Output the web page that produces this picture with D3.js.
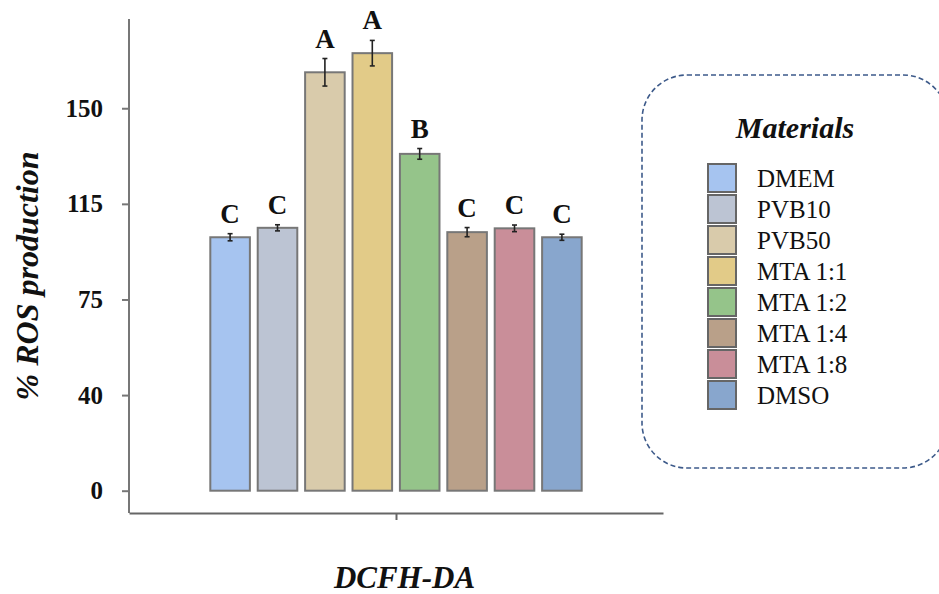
<!DOCTYPE html>
<html>
<head>
<meta charset="utf-8">
<script src="https://cdn.jsdelivr.net/npm/d3@7"></script>
<style>
  body { margin: 0; background: #fff; }
  svg text { font-family: "Liberation Serif", "DejaVu Serif", "Times New Roman", serif; }
</style>
</head>
<body>
<div id="canvas"></div>
<script>
const materials = ["DMEM", "PVB10", "PVB50", "MTA 1:1", "MTA 1:2", "MTA 1:4", "MTA 1:8", "DMSO"];
const rosValues = [99.4, 103.1, 164.1, 171.6, 132.1, 101.4, 102.9, 99.4];
const rosErrors = [1.4, 1.2, 5.4, 5.0, 2.1, 1.8, 1.3, 1.2];
const groupLetters = ["C", "C", "A", "A", "B", "C", "C", "C"];
const barColors = ["#a6c4f0", "#bcc4d3", "#d9cbab", "#e2cb88", "#95c48a", "#b9a089", "#c98e99", "#88a6cd"];
const tickValues = [0, 37.5, 75, 112.5, 150];
const tickLabels = ["0", "40", "75", "115", "150"];
const assay = ["DCFH-DA"];

const width = 939, height = 594;
const svg = d3.select("#canvas").append("svg")
  .attr("width", width)
  .attr("height", height);

const axisX = 129, axisBottomY = 513;

const y = d3.scaleLinear()
  .domain([0, 185])
  .range([490.7, 19]);

const x = d3.scaleBand()
  .domain(materials)
  .range([206.4, 585.6])
  .paddingInner(0.165)
  .paddingOuter(0.0825);

const xAssay = d3.scalePoint()
  .domain(assay)
  .range([axisX, 663])
  .padding(0.5);

// y axis
const yAxis = svg.append("g")
  .attr("transform", `translate(${axisX},0)`)
  .call(d3.axisLeft(y).tickValues(tickValues).tickFormat((d, i) => tickLabels[i]).tickSize(7).tickPadding(19));
yAxis.select(".domain").remove();
yAxis.selectAll(".tick line").attr("stroke", "#777").attr("stroke-width", 2);
yAxis.selectAll(".tick text")
  .attr("fill", "#111")
  .style("font-size", "25px")
  .style("font-weight", "bold");

svg.append("line")
  .attr("x1", axisX).attr("x2", axisX)
  .attr("y1", y.range()[1]).attr("y2", axisBottomY)
  .attr("stroke", "#777").attr("stroke-width", 2);

// x axis
const xAxis = svg.append("g")
  .attr("transform", `translate(0,${axisBottomY})`)
  .call(d3.axisBottom(xAssay).tickSize(7).tickSizeOuter(0).tickPadding(46));
xAxis.select(".domain").attr("stroke", "#666").attr("stroke-width", 2);
xAxis.selectAll(".tick line").attr("stroke", "#666").attr("stroke-width", 2);
xAxis.selectAll(".tick text")
  .attr("fill", "#111")
  .attr("dx", 8)
  .style("font-size", "31px")
  .style("font-weight", "bold")
  .style("font-style", "italic");

// y label
svg.append("text")
  .attr("transform", `translate(38,${(145 + 407) / 2}) rotate(-90)`)
  .attr("text-anchor", "middle")
  .attr("fill", "#111")
  .style("font-size", "32px")
  .style("font-weight", "bold")
  .style("font-style", "italic")
  .text("%  ROS production");

// bars
const bars = svg.append("g").selectAll("g").data(materials).enter().append("g");

bars.append("rect")
  .attr("x", d => x(d))
  .attr("y", (d, i) => y(rosValues[i]))
  .attr("width", x.bandwidth())
  .attr("height", (d, i) => y(0) - y(rosValues[i]))
  .attr("fill", (d, i) => barColors[i])
  .attr("stroke", "#777")
  .attr("stroke-width", 2);

// error bars
bars.append("line")
  .attr("x1", d => x(d) + x.bandwidth() / 2)
  .attr("x2", d => x(d) + x.bandwidth() / 2)
  .attr("y1", (d, i) => y(rosValues[i] + rosErrors[i]))
  .attr("y2", (d, i) => y(rosValues[i] - rosErrors[i]))
  .attr("stroke", "#222").attr("stroke-width", 1.6);
[1, -1].forEach(s => {
  bars.append("line")
    .attr("x1", d => x(d) + x.bandwidth() / 2 - 2.5)
    .attr("x2", d => x(d) + x.bandwidth() / 2 + 2.5)
    .attr("y1", (d, i) => y(rosValues[i] + s * rosErrors[i]))
    .attr("y2", (d, i) => y(rosValues[i] + s * rosErrors[i]))
    .attr("stroke", "#222").attr("stroke-width", 1.6);
});

// significance letters
bars.append("text")
  .attr("x", d => x(d) + x.bandwidth() / 2)
  .attr("y", (d, i) => y(rosValues[i] + rosErrors[i]) - 11)
  .attr("text-anchor", "middle")
  .attr("fill", "#111")
  .style("font-size", "27px")
  .style("font-weight", "bold")
  .text((d, i) => groupLetters[i]);

// legend
const legend = svg.append("g");
legend.append("rect")
  .attr("x", 642).attr("y", 75)
  .attr("width", 306).attr("height", 393)
  .attr("rx", 45).attr("ry", 45)
  .attr("fill", "none")
  .attr("stroke", "#3d5a8a")
  .attr("stroke-width", 1.6)
  .attr("stroke-dasharray", "5,3");

legend.append("text")
  .attr("x", 795).attr("y", 138)
  .attr("text-anchor", "middle")
  .attr("fill", "#111")
  .style("font-size", "30px")
  .style("font-weight", "bold")
  .style("font-style", "italic")
  .text("Materials");

const item = legend.selectAll(".item").data(materials).enter().append("g")
  .attr("class", "item")
  .attr("transform", (d, i) => `translate(708,${164 + i * 31})`);
item.append("rect")
  .attr("width", 28).attr("height", 28)
  .attr("fill", (d, i) => barColors[i])
  .attr("stroke", "#666")
  .attr("stroke-width", 2);
item.append("text")
  .attr("x", 49).attr("y", 14)
  .attr("dy", "0.35em")
  .attr("fill", "#111")
  .style("font-size", "25px")
  .text(d => d);
</script>
</body>
</html>
